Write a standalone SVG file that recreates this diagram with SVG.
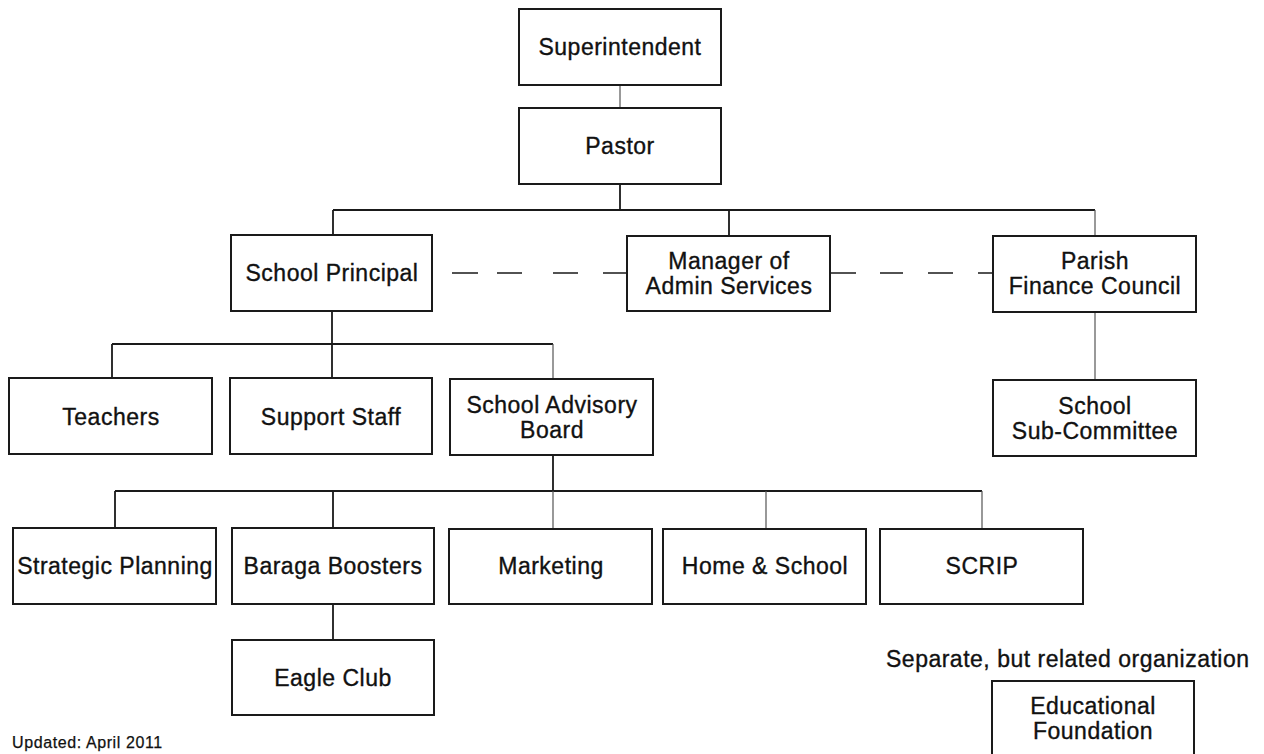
<svg xmlns="http://www.w3.org/2000/svg" width="1264" height="754" viewBox="0 0 1264 754">
  <style>
    .box { fill: #ffffff; stroke: #1a1a1a; stroke-width: 2; }
    .lbl { font-family: "Liberation Sans", Arial, sans-serif; font-size: 23px; letter-spacing: 0.5px; fill: #111111; stroke: #111111; stroke-width: 0.35; text-anchor: middle; }
    .note { font-family: "Liberation Sans", Arial, sans-serif; font-size: 23px; letter-spacing: 0.5px; fill: #111111; stroke: #111111; stroke-width: 0.35; }
    .small { font-family: "Liberation Sans", Arial, sans-serif; font-size: 16px; letter-spacing: 0.6px; fill: #111111; stroke: #111111; stroke-width: 0.25; }
    .link { fill: none; stroke: #1a1a1a; stroke-width: 1.8; }
    .thin { fill: none; stroke: #555555; stroke-width: 1.2; }
    .dash { fill: none; stroke: #1a1a1a; stroke-width: 1.5; }
  </style>
  <rect width="1264" height="754" fill="#ffffff"/>

  <!-- connectors -->
  <g id="connectors">
    <path class="thin" d="M620 85 V108"/>
    <path class="link" d="M620 184 V210 M333 210 H1095 M333 210 V235 M729 210 V236"/>
    <path class="thin" d="M1095 210 V236"/>
    <path class="thin" d="M1095 312 V380"/>
    <!-- dotted-line relationships between principal, manager and finance council -->
    <path class="dash" d="M452 273 H478 M497 273 H522 M553 273 H578 M603 273 H627 M831 273 H856 M880 273 H903 M928 273 H953 M978 273 H993"/>
    <path class="link" d="M332 311 V344 M112 344 H553 M112 344 V378 M332 344 V378"/>
    <path class="thin" d="M553 344 V379"/>
    <path class="link" d="M553 455 V491 M115 491 H982 M115 491 V528 M333 491 V528"/>
    <path class="thin" d="M553 491 V529 M766 491 V529 M982 491 V529"/>
    <path class="link" d="M333 604 V640"/>
  </g>

  <!-- nodes -->
  <g id="superintendent">
    <rect class="box" x="519" y="9" width="202" height="76"/>
    <text class="lbl" x="620" y="55">Superintendent</text>
  </g>
  <g id="pastor">
    <rect class="box" x="519" y="108" width="202" height="76"/>
    <text class="lbl" x="620" y="154">Pastor</text>
  </g>
  <g id="school-principal">
    <rect class="box" x="231" y="235" width="201" height="76"/>
    <text class="lbl" x="332" y="281">School Principal</text>
  </g>
  <g id="manager-admin">
    <rect class="box" x="627" y="236" width="203" height="75"/>
    <text class="lbl" x="729" y="269">Manager of</text>
    <text class="lbl" x="729" y="294">Admin Services</text>
  </g>
  <g id="parish-finance">
    <rect class="box" x="993" y="236" width="203" height="76"/>
    <text class="lbl" x="1095" y="269">Parish</text>
    <text class="lbl" x="1095" y="294">Finance Council</text>
  </g>
  <g id="teachers">
    <rect class="box" x="9" y="378" width="203" height="76"/>
    <text class="lbl" x="111" y="425">Teachers</text>
  </g>
  <g id="support-staff">
    <rect class="box" x="230" y="378" width="202" height="76"/>
    <text class="lbl" x="331" y="425">Support Staff</text>
  </g>
  <g id="advisory-board">
    <rect class="box" x="450" y="379" width="203" height="76"/>
    <text class="lbl" x="552" y="413">School Advisory</text>
    <text class="lbl" x="552" y="438">Board</text>
  </g>
  <g id="sub-committee">
    <rect class="box" x="993" y="380" width="203" height="76"/>
    <text class="lbl" x="1095" y="414">School</text>
    <text class="lbl" x="1095" y="439">Sub-Committee</text>
  </g>
  <g id="strategic-planning">
    <rect class="box" x="13" y="528" width="203" height="76"/>
    <text class="lbl" x="115" y="574">Strategic Planning</text>
  </g>
  <g id="baraga-boosters">
    <rect class="box" x="232" y="528" width="202" height="76"/>
    <text class="lbl" x="333" y="574">Baraga Boosters</text>
  </g>
  <g id="marketing">
    <rect class="box" x="449" y="529" width="203" height="75"/>
    <text class="lbl" x="551" y="574">Marketing</text>
  </g>
  <g id="home-school">
    <rect class="box" x="663" y="529" width="203" height="75"/>
    <text class="lbl" x="765" y="574">Home &amp; School</text>
  </g>
  <g id="scrip">
    <rect class="box" x="880" y="529" width="203" height="75"/>
    <text class="lbl" x="982" y="574">SCRIP</text>
  </g>
  <g id="eagle-club">
    <rect class="box" x="232" y="640" width="202" height="75"/>
    <text class="lbl" x="333" y="686">Eagle Club</text>
  </g>
  <g id="educational-foundation">
    <rect class="box" x="992" y="681" width="202" height="90"/>
    <text class="lbl" x="1093" y="714">Educational</text>
    <text class="lbl" x="1093" y="739">Foundation</text>
  </g>

  <!-- free text -->
  <text class="note" x="886" y="667">Separate, but related organization</text>
  <text class="small" x="12" y="748">Updated: April 2011</text>
</svg>
